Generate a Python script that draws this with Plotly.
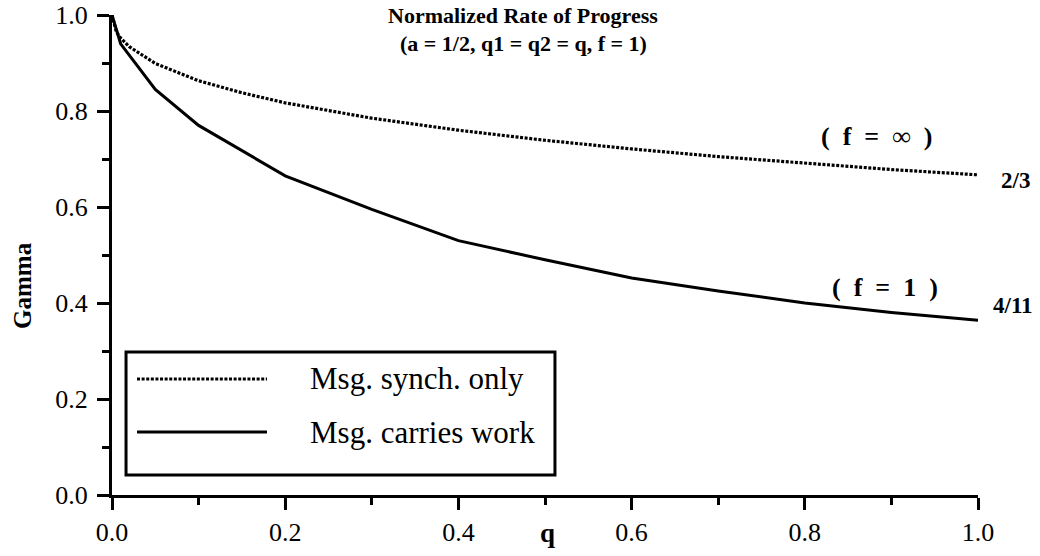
import plotly.graph_objects as go

# Data
q_sync = [0.0, 0.005, 0.01, 0.02, 0.05, 0.1, 0.15, 0.2, 0.3, 0.4, 0.5, 0.6, 0.7, 0.8, 0.9, 1.0]
gamma_sync = [1.0, 0.965, 0.952, 0.934, 0.899, 0.863, 0.838, 0.817, 0.785, 0.760, 0.739, 0.721, 0.705, 0.691, 0.678, 0.667]

q_work = [0.0, 0.01, 0.05, 0.1, 0.2, 0.3, 0.4, 0.5, 0.6, 0.7, 0.8, 0.9, 1.0]
gamma_work = [1.0, 0.94, 0.845, 0.77, 0.665, 0.595, 0.53, 0.49, 0.452, 0.425, 0.40, 0.38, 0.364]

series_names = ["Msg. synch. only", "Msg. carries work"]
x_ticks = [0.0, 0.2, 0.4, 0.6, 0.8, 1.0]
x_tick_labels = ["0.0", "0.2", "0.4", "0.6", "0.8", "1.0"]
y_ticks = [0.0, 0.2, 0.4, 0.6, 0.8, 1.0]
y_tick_labels = ["0.0", "0.2", "0.4", "0.6", "0.8", "1.0"]
minor_ticks = [0.1, 0.3, 0.5, 0.7, 0.9]

SERIF = "Liberation Serif, Times New Roman, serif"
DOT = "3px,1.6px"

fig = go.Figure()
fig.add_trace(go.Scatter(x=q_sync, y=gamma_sync, mode="lines", name=series_names[0],
                         line=dict(color="black", width=3.2, dash=DOT), showlegend=False))
fig.add_trace(go.Scatter(x=q_work, y=gamma_work, mode="lines", name=series_names[1],
                         line=dict(color="black", width=3), showlegend=False))

axis_common = dict(range=[0, 1], showgrid=False, zeroline=False, showline=True,
                   linecolor="black", linewidth=3, ticks="outside", ticklen=12, tickwidth=3,
                   tickcolor="black", automargin=False,
                   tickfont=dict(family=SERIF, size=26, color="black"),
                   minor=dict(tickvals=minor_ticks, ticks="outside", ticklen=7,
                              tickwidth=3, tickcolor="black", showgrid=False))

fig.update_layout(
    template="none",
    width=1040, height=556,
    margin=dict(l=112, r=62, t=15, b=61, autoexpand=False),
    paper_bgcolor="white", plot_bgcolor="white",
    font=dict(family=SERIF, color="black", size=24),
    showlegend=False,
    xaxis=dict(tickvals=x_ticks, ticktext=x_tick_labels, ticklabelstandoff=0, **axis_common),
    yaxis=dict(tickvals=y_ticks, ticktext=y_tick_labels, ticklabelstandoff=4, **axis_common),
)

ann = []
# Title lines
ann.append(dict(text="<b>Normalized Rate of Progress</b>", x=0.4746, y=1.0, xref="paper", yref="paper",
                showarrow=False, font=dict(family=SERIF, size=22), xanchor="center", yanchor="middle"))
ann.append(dict(text="<b>(a = 1/2, q1 = q2 = q, f = 1)</b>", x=0.4746, y=0.94, xref="paper", yref="paper",
                showarrow=False, font=dict(family=SERIF, size=22), xanchor="center", yanchor="middle"))
# Axis titles
ann.append(dict(text="<b>Gamma</b>", x=-0.104, y=0.4375, xref="paper", yref="paper", textangle=-90,
                showarrow=False, font=dict(family=SERIF, size=25), xanchor="center", yanchor="middle"))
ann.append(dict(text="<b>q</b>", x=0.503, y=-0.079, xref="paper", yref="paper",
                showarrow=False, font=dict(family=SERIF, size=27), xanchor="center", yanchor="middle"))
# Curve labels
ann.append(dict(text="<b>(\u2002f\u2002=\u2002\u221e\u2002)</b>", x=0.883, y=0.746, xref="paper", yref="paper",
                showarrow=False, font=dict(family=SERIF, size=26), xanchor="center", yanchor="middle"))
ann.append(dict(text="<b>(\u2002f\u2002=\u20021\u2002)</b>", x=0.893, y=0.433, xref="paper", yref="paper",
                showarrow=False, font=dict(family=SERIF, size=26), xanchor="center", yanchor="middle"))
ann.append(dict(text="<b>2/3</b>", x=1.043, y=0.656, xref="paper", yref="paper",
                showarrow=False, font=dict(family=SERIF, size=23), xanchor="center", yanchor="middle"))
ann.append(dict(text="<b>4/11</b>", x=1.040, y=0.394, xref="paper", yref="paper",
                showarrow=False, font=dict(family=SERIF, size=23), xanchor="center", yanchor="middle"))
# Legend text
ann.append(dict(text=series_names[0], x=0.2263, y=0.2417, xref="paper", yref="paper",
                showarrow=False, font=dict(family=SERIF, size=31), xanchor="left", yanchor="middle"))
ann.append(dict(text=series_names[1], x=0.2263, y=0.131, xref="paper", yref="paper",
                showarrow=False, font=dict(family=SERIF, size=31), xanchor="left", yanchor="middle"))
fig.update_layout(annotations=ann)

# Legend box and sample lines
fig.add_shape(type="rect", xref="paper", yref="paper", x0=0.0162, x1=0.5115, y0=0.0417, y1=0.298,
              line=dict(color="black", width=3), fillcolor="white", layer="above")
fig.add_shape(type="line", xref="paper", yref="paper", x0=0.0289, x1=0.179, y0=0.2417, y1=0.2417,
              line=dict(color="black", width=3.2, dash=DOT))
fig.add_shape(type="line", xref="paper", yref="paper", x0=0.0289, x1=0.179, y0=0.131, y1=0.131,
              line=dict(color="black", width=3))

fig.write_html("out.html", config={"displayModeBar": False},
               post_script="document.body.style.margin='0';document.body.style.overflow='hidden';")
